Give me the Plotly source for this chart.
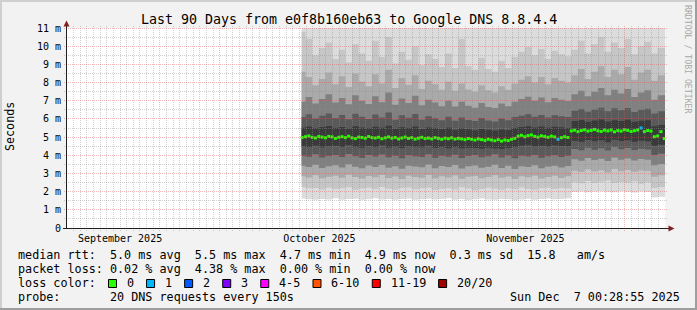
import math
import pandas as pd
import plotly.graph_objects as go

# ---------------- data ----------------
title_text = "Last 90 Days from e0f8b160eb63 to Google DNS 8.8.4.4"
x_start = "2025-09-08 00:28:55"
x_end = "2025-12-07 00:28:55"

month_starts = ["2025-10-01", "2025-11-01", "2025-12-01"]
month_label_dates = ["2025-09-16", "2025-10-16", "2025-11-16"]
month_labels = ["September 2025", "October 2025", "November 2025"]

y_ticks = [0, 1, 2, 3, 4, 5, 6, 7, 8, 9, 10, 11]
y_ticklabels = ["0", "1 m", "2 m", "3 m", "4 m", "5 m", "6 m", "7 m", "8 m", "9 m", "10 m", "11 m"]

# smoke band time steps (first partial step, then daily)
band_first = "2025-10-13 08:00"
band_daily_start = "2025-10-13 22:00"

# smoke bands (ms): lower / upper boundary of each ping pair, outer -> inner
a_lo = [1.62, 1.58, 1.55, 1.60, 1.57, 1.63, 1.56, 1.59, 1.61, 1.55,
        1.58, 1.64, 1.57, 1.60, 1.56, 1.59, 1.62, 1.55, 1.58, 1.61,
        1.57, 1.60, 1.63, 1.56, 1.59, 1.54, 1.58, 1.62, 1.57, 1.55,
        1.60, 1.58, 1.53, 1.57, 1.61, 1.56, 1.59, 1.62, 1.58, 1.60, 1.63,
        1.98, 2.02, 1.96, 2.01, 2.04, 1.99, 1.97, 2.03, 2.00, 1.95, 2.02, 1.98,
        1.68, 1.72]
a_hi = [12.6, 12.9, 12.2, 12.7, 13.1, 12.4, 12.8, 12.1, 13.0, 12.5,
        12.3, 12.9, 12.4, 13.2, 12.0, 12.6, 12.3, 12.8, 11.9, 12.5,
        12.2, 11.8, 12.4, 11.9, 12.7, 12.0, 11.8, 12.3, 11.9, 11.7,
        12.1, 11.9, 12.4, 12.6, 12.9, 12.5, 12.8, 12.3, 12.7, 12.5, 12.4,
        12.6, 13.0, 12.4, 12.8, 13.2, 12.5, 12.9, 12.7, 13.1, 12.3, 12.8, 12.9,
        12.4, 12.6]
b_lo = [2.25, 2.18, 2.20, 2.12, 2.22, 2.15, 2.19, 2.24, 2.10, 2.17,
        2.21, 2.14, 2.26, 2.16, 2.11, 2.20, 2.23, 2.13, 2.18, 2.22,
        2.09, 2.15, 2.19, 2.12, 2.24, 2.17, 2.08, 2.14, 2.21, 2.16,
        2.11, 2.19, 2.13, 2.23, 2.15, 2.10, 2.18, 2.22, 2.14, 2.20, 2.17,
        2.52, 2.46, 2.58, 2.49, 2.55, 2.61, 2.47, 2.53, 2.50, 2.57, 2.44, 2.51,
        2.20, 2.26]
b_hi = [10.80, 10.40, 9.50, 9.90, 10.20, 9.30, 9.80, 9.10, 10.10, 9.60,
        9.20, 10.30, 9.40, 10.50, 9.05, 9.70, 9.25, 10.00, 8.95, 9.55,
        9.30, 8.85, 9.60, 8.80, 10.40, 8.90, 8.70, 9.35, 8.75, 8.60,
        9.20, 8.80, 9.40, 9.70, 9.95, 9.50, 9.85, 9.30, 9.75, 9.55, 9.45,
        9.80, 10.30, 9.60, 10.10, 10.50, 9.70, 10.20, 9.90, 10.40, 9.55, 10.00, 10.25,
        9.60, 9.90]
c_lo = [2.85, 2.78, 2.90, 2.74, 2.82, 2.88, 2.76, 2.93, 2.80, 2.72,
        2.86, 2.79, 2.91, 2.75, 2.83, 2.70, 2.87, 2.81, 2.77, 2.92,
        2.73, 2.84, 2.78, 2.89, 2.71, 2.82, 2.86, 2.74, 2.80, 2.90,
        2.76, 2.83, 2.69, 2.85, 2.79, 2.88, 2.72, 2.81, 2.87, 2.75, 2.84,
        3.15, 3.08, 3.22, 3.11, 3.18, 3.05, 3.25, 3.12, 3.19, 3.09, 3.16, 3.13,
        2.82, 2.90]
c_hi = [8.60, 8.30, 7.85, 8.20, 8.55, 7.90, 8.35, 7.75, 8.50, 8.05,
        7.80, 8.45, 7.95, 8.70, 7.70, 8.25, 7.88, 8.40, 7.65, 8.10,
        7.90, 7.60, 8.05, 7.55, 7.95, 7.62, 7.50, 7.85, 7.58, 7.45,
        7.80, 7.60, 7.95, 8.15, 8.35, 8.00, 8.30, 7.90, 8.25, 8.10, 8.00,
        8.40, 8.75, 8.20, 8.60, 8.90, 8.30, 8.70, 8.45, 8.85, 8.15, 8.55, 8.70,
        8.10, 8.40]
d_lo = [3.42, 3.35, 3.48, 3.30, 3.39, 3.45, 3.33, 3.50, 3.37, 3.28,
        3.44, 3.36, 3.47, 3.31, 3.40, 3.26, 3.43, 3.38, 3.34, 3.49,
        3.29, 3.41, 3.35, 3.46, 3.27, 3.39, 3.44, 3.32, 3.37, 3.48,
        3.30, 3.42, 3.25, 3.40, 3.36, 3.45, 3.29, 3.38, 3.43, 3.33, 3.41,
        3.78, 3.70, 3.85, 3.74, 3.81, 3.68, 3.88, 3.75, 3.82, 3.71, 3.79, 3.76,
        3.45, 3.52]
d_hi = [6.95, 7.20, 6.85, 7.10, 7.35, 6.90, 7.15, 6.80, 7.30, 7.00,
        6.82, 7.25, 6.92, 7.45, 6.78, 7.12, 6.88, 7.28, 6.75, 7.05,
        6.90, 6.70, 7.00, 6.68, 6.95, 6.72, 6.62, 6.88, 6.66, 6.60,
        6.85, 6.70, 6.95, 7.10, 7.22, 7.00, 7.18, 6.92, 7.15, 7.05, 6.98,
        7.35, 7.55, 7.25, 7.50, 7.70, 7.30, 7.60, 7.40, 7.65, 7.20, 7.45, 7.58,
        7.05, 7.30]
e_lo = [3.98, 3.92, 4.05, 3.88, 3.96, 4.02, 3.90, 4.07, 3.94, 3.86,
        4.01, 3.93, 4.04, 3.89, 3.97, 3.84, 4.00, 3.95, 3.91, 4.06,
        3.87, 3.98, 3.92, 4.03, 3.85, 3.96, 4.01, 3.89, 3.94, 4.05,
        3.88, 3.99, 3.83, 3.97, 3.93, 4.02, 3.86, 3.95, 4.00, 3.90, 3.98,
        4.35, 4.28, 4.42, 4.31, 4.38, 4.26, 4.45, 4.33, 4.40, 4.29, 4.36, 4.32,
        4.02, 4.08]
e_hi = [6.10, 6.25, 6.02, 6.18, 6.30, 6.05, 6.22, 5.98, 6.28, 6.12,
        6.00, 6.24, 6.08, 6.35, 5.96, 6.20, 6.06, 6.27, 5.95, 6.15,
        6.04, 5.92, 6.12, 5.90, 6.08, 5.94, 5.88, 6.05, 5.91, 5.86,
        6.02, 5.93, 6.10, 6.18, 6.26, 6.12, 6.22, 6.08, 6.20, 6.15, 6.10,
        6.45, 6.55, 6.40, 6.52, 6.62, 6.42, 6.58, 6.48, 6.60, 6.38, 6.50, 6.56,
        6.30, 6.42]
f_lo = [4.50, 4.46, 4.53, 4.44, 4.49, 4.52, 4.45, 4.55, 4.47, 4.42,
        4.51, 4.46, 4.54, 4.43, 4.48, 4.40, 4.50, 4.47, 4.44, 4.52,
        4.41, 4.45, 4.39, 4.46, 4.38, 4.42, 4.40, 4.36, 4.41, 4.37,
        4.34, 4.40, 4.45, 4.52, 4.55, 4.50, 4.53, 4.48, 4.54, 4.51, 4.49,
        4.80, 4.74, 4.84, 4.77, 4.82, 4.72, 4.86, 4.78, 4.83, 4.75, 4.80, 4.77,
        4.52, 4.58]
f_hi = [5.52, 5.58, 5.49, 5.55, 5.61, 5.50, 5.56, 5.47, 5.59, 5.53,
        5.48, 5.57, 5.51, 5.62, 5.46, 5.54, 5.50, 5.58, 5.45, 5.53,
        5.49, 5.44, 5.52, 5.41, 5.47, 5.43, 5.38, 5.45, 5.40, 5.36,
        5.42, 5.39, 5.50, 5.56, 5.60, 5.53, 5.58, 5.51, 5.57, 5.54, 5.50,
        5.88, 5.94, 5.85, 5.91, 5.97, 5.86, 5.92, 5.89, 5.95, 5.84, 5.90, 5.93,
        5.60, 5.66]

# median rtt (ms), 12-hour steps
median_start = "2025-10-13 10:00"
median_ms = [4.98, 5.02, 5.06, 4.99, 4.95, 5.03, 5.00, 4.96, 5.04, 5.01,
             4.93, 4.99, 5.02, 4.97, 5.05, 4.96, 4.92, 5.00, 4.98, 4.94,
             5.03, 4.97, 4.95, 4.99, 4.91, 4.96, 5.01, 4.94, 4.98, 4.90,
             4.95, 5.00, 4.93, 4.97, 4.89, 4.94, 4.99, 4.92,
             4.95, 4.90, 4.97, 4.93, 4.88, 4.94, 4.91, 4.96, 4.89, 4.93,
             4.90, 4.86, 4.92, 4.88, 4.84, 4.90, 4.86, 4.82, 4.88, 4.84,
             4.80, 4.86, 4.78, 4.84, 4.81, 4.88,
             4.93, 5.05, 5.10, 5.02, 5.08, 5.12, 5.04, 5.00, 5.07, 5.03,
             4.99, 5.05, 5.01, 4.88, 4.97, 5.02, 4.98,
             5.34, 5.38, 5.30, 5.36, 5.40, 5.33, 5.37, 5.42, 5.35, 5.31,
             5.38, 5.34, 5.39, 5.29, 5.36, 5.33, 5.40, 5.37, 5.31, 5.35,
             5.39, 5.50, 5.30, 5.36, 5.33,
             5.02, 5.06, 5.30, 4.92]
median_loss = [0, 0, 0, 0, 0, 0, 0, 0, 0, 0,
               0, 0, 0, 0, 0, 0, 0, 0, 0, 0,
               0, 0, 0, 0, 0, 0, 0, 0, 0, 0,
               0, 0, 0, 0, 0, 0, 0, 0, 0, 0,
               0, 0, 0, 0, 0, 0, 0, 0, 0, 0,
               0, 0, 0, 0, 0, 0, 0, 0, 0, 0,
               0, 0, 0, 0, 0, 0, 0, 0, 0, 0,
               0, 0, 0, 0, 0, 0, 0, 1, 0, 0,
               0, 0, 0, 0, 0, 0, 0, 0, 0, 0,
               0, 0, 0, 0, 0, 0, 0, 0, 0, 0,
               0, 0, 1, 0, 0, 0, 0, 0, 0, 0]

loss_labels = ["0", "1", "2", "3", "4-5", "6-10", "11-19", "20/20"]
loss_colors = ["#26ff00", "#00b8ff", "#0059ff", "#7e00ff", "#ff00ff", "#ff5500", "#ff0000", "#a10000"]

rtt_stat_values = ["5.0", "5.5", "4.7", "4.9", "0.3"]
rtt_stat_names = ["avg", "max", "min", "now", "sd"]
am_per_s = "15.8"
loss_stat_values = ["0.02", "4.38", "0.00", "0.00"]
loss_stat_names = ["avg", "max", "min", "now"]
probe_text = "20 DNS requests every 150s"
stamp_text = "Sun Dec  7 00:28:55 2025"

# ---------------- layout helpers ----------------
FW, FH = 697, 310
L, R, T, B = 67, 32, 28, 82
PW, PH = FW - L - R, FH - T - B
MONO = "DejaVu Sans Mono"
YMAX = 11

def pxx(p):
    return (p - L) / PW

def pxy(p):
    return (T + PH - p) / PH

t0 = pd.Timestamp(x_start)
t1 = pd.Timestamp(x_end)
span = (t1 - t0).total_seconds()

def t_px(t):
    return L + PW * (pd.Timestamp(t) - t0).total_seconds() / span

def v_px(v):
    return T + PH * (1 - v / YMAX)

def snap(p):
    return math.floor(p) + 0.5

def nb(s):
    return s.replace(" ", "\u00a0")

# ---------------- traces ----------------
band_times = [pd.Timestamp(band_first)] + list(pd.date_range(band_daily_start, periods=len(a_lo) - 1, freq="D"))
bx = band_times + [t1]

fig = go.Figure()
bands = [(a_lo, a_hi, "#dcdcdc"), (b_lo, b_hi, "#c6c6c6"), (c_lo, c_hi, "#aaaaaa"),
         (d_lo, d_hi, "#808080"), (e_lo, e_hi, "#5a5a5a"), (f_lo, f_hi, "#3a3a3a")]
for lo, hi, col in bands:
    fig.add_trace(go.Scatter(x=bx, y=lo + [lo[-1]], mode="lines",
                             line=dict(width=0, shape="hv"), hoverinfo="skip", showlegend=False))
    fig.add_trace(go.Scatter(x=bx, y=hi + [hi[-1]], mode="lines", fill="tonexty", fillcolor=col,
                             line=dict(width=0, shape="hv"), hoverinfo="skip", showlegend=False))

loss_index = {0: 0, 1: 1, 2: 2, 3: 3, 4: 4, 5: 4}
mcolors = [loss_colors[loss_index.get(c, 7)] for c in median_loss]
median_times = pd.date_range(median_start, periods=len(median_ms), freq="12h")
fig.add_trace(go.Scatter(x=median_times, y=median_ms, mode="markers",
                         marker=dict(symbol="square", size=3, color=mcolors, line=dict(width=0)),
                         hoverinfo="skip", showlegend=False))

# ---------------- grid / axes as shapes (drawn above smoke like rrdtool) ----------------
shapes = []
GRID = "rgba(143,143,143,0.42)"
MGRID = "rgba(222,79,79,0.40)"

def seg(x0, y0, x1, y1, color, dash="solid", width=1):
    shapes.append(dict(type="line", xref="paper", yref="paper",
                       x0=pxx(x0), y0=pxy(y0), x1=pxx(x1), y1=pxy(y1),
                       line=dict(color=color, width=width, dash=dash), layer="above"))

DOT = "1px,1px"
# minor vertical (daily)
for d in pd.date_range("2025-09-09", "2025-12-06", freq="D"):
    if d.strftime("%Y-%m-%d") in month_starts:
        continue
    x = snap(t_px(d))
    seg(x, 26, x, 231, GRID, DOT)
# minor horizontal (half units)
for k in range(YMAX):
    y = snap(v_px(k + 0.5))
    seg(64, y, 668, y, GRID, DOT)
# major vertical
for m in month_starts:
    x = snap(t_px(m))
    seg(x, 26, x, 231, MGRID, DOT)
# major horizontal
for v in y_ticks[1:]:
    y = snap(v_px(v))
    seg(64, y, 668, y, MGRID, DOT)

AXIS = "#1f1f1f"
ARROW = "#801f1f"
seg(66.5, 229, 66.5, 24, AXIS)
seg(63, 228.5, 669, 228.5, AXIS)
# arrows
shapes.append(dict(type="path", xref="paper", yref="paper", layer="above",
                   path=f"M {pxx(63.5)} {pxy(26.5)} L {pxx(66.5)} {pxy(20.5)} L {pxx(69.5)} {pxy(26.5)} Z",
                   fillcolor=ARROW, line=dict(width=0)))
shapes.append(dict(type="path", xref="paper", yref="paper", layer="above",
                   path=f"M {pxx(668.5)} {pxy(225.5)} L {pxx(674.5)} {pxy(228.5)} L {pxx(668.5)} {pxy(231.5)} Z",
                   fillcolor=ARROW, line=dict(width=0)))

# image frame shading
def rect(x0, y0, x1, y1, color):
    shapes.append(dict(type="rect", xref="paper", yref="paper", layer="above",
                       x0=pxx(x0), y0=pxy(y0), x1=pxx(x1), y1=pxy(y1),
                       fillcolor=color, line=dict(width=0)))

rect(0, 0, FW, 2, "#cfcfcf")
rect(0, 0, 2, FH, "#cfcfcf")
rect(FW - 2, 0, FW, FH, "#9e9e9e")
rect(0, FH - 2, FW, FH, "#9e9e9e")

# ---------------- texts ----------------
ann = []
def text(x, y, s, size, anchor="left", color="#000000", angle=0):
    ann.append(dict(x=pxx(x), y=pxy(y), xref="paper", yref="paper", text=nb(s), showarrow=False,
                    xanchor=anchor, yanchor="middle", textangle=angle,
                    font=dict(family=MONO, size=size, color=color)))

text(348.5, 19, title_text, 13.3, anchor="center")
text(10, 127, "Seconds", 11.7, anchor="center", angle=-90)
text(688, 59, "RRDTOOL / TOBI OETIKER", 8.2, anchor="center", color="#a8a8a8", angle=90)

LEG = 11.75
rtt_parts = "  ".join(f"{v} ms {n}" for v, n in zip(rtt_stat_values, rtt_stat_names))
line1 = "median rtt:  " + rtt_parts + "  " + am_per_s + "   am/s"
loss_parts = "  ".join(f"{v} % {n}" for v, n in zip(loss_stat_values, loss_stat_names))
line2 = "packet loss: " + loss_parts
line4 = "probe:       " + probe_text
text(15.5, 254.5, line1, LEG)
text(15.5, 268.5, line2, LEG)
text(15.5, 282.5, "loss color:", LEG)
text(15.5, 296.5, line4, LEG)
text(681.5, 296.5, stamp_text, LEG, anchor="right")

bxp = 108
for lab, col in zip(loss_labels, loss_colors):
    shapes.append(dict(type="rect", xref="paper", yref="paper", layer="above",
                       x0=pxx(bxp + 0.5), y0=pxy(279.5), x1=pxx(bxp + 8.5), y1=pxy(287.5),
                       fillcolor=col, line=dict(color="#000000", width=1)))
    text(bxp + 17, 283, lab, LEG)
    bxp = bxp + 31 + 7.07 * len(lab)

fig.update_layout(
    width=FW, height=FH, autosize=False,
    margin=dict(l=L, r=R, t=T, b=B, pad=0),
    paper_bgcolor="#f2f2f2", plot_bgcolor="#ffffff",
    showlegend=False, font=dict(family=MONO, color="#000000"),
    shapes=shapes, annotations=ann,
    xaxis=dict(type="date", range=[t0, t1], showgrid=False, zeroline=False, showline=False,
               tickmode="array", tickvals=month_label_dates, ticktext=month_labels,
               ticks="", ticklabelstandoff=3, tickfont=dict(family=MONO, size=10, color="#000000"),
               fixedrange=True),
    yaxis=dict(range=[0, YMAX], showgrid=False, zeroline=False, showline=False,
               tickmode="array", tickvals=y_ticks, ticktext=y_ticklabels,
               ticks="", ticklabelstandoff=5, tickfont=dict(family=MONO, size=10, color="#000000"),
               fixedrange=True),
)

fig.write_html("out.html", config={"displayModeBar": False})
